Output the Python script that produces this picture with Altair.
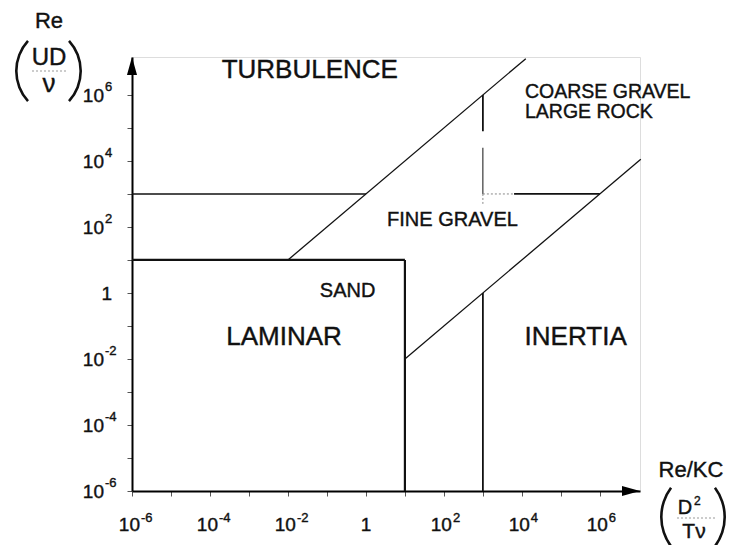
import altair as alt
import pandas as pd

FONT = "Liberation Sans"
INK = "#111111"

# ---------------- data ----------------
# decade exponents of the labelled ticks and of all tick marks
label_exponents = [-6, -4, -2, 0, 2, 4, 6]
tick_exponents = list(range(-6, 7))

# regime boundaries: segments (x0, y0, x1, y1) in (Re/KC, Re)
laminar_box = [(1e-6, 10, 10, 10), (10, 1e-6, 10, 10)]
turbulence_limit = [(1e-6, 1e3, 1, 1e3)]
upper_diagonal = [(1e-2, 10, 10 ** 4.1, 10 ** 7.1)]
lower_diagonal = [(10, 1e-2, 10 ** 7.05, 10 ** 4.05)]
inertia_limit = [(1e3, 1e-6, 1e3, 1), (10 ** 3.8, 1e3, 1e6, 1e3)]
coarse_limit_upper = [(1e3, 1e6, 1e3, 10 ** 4.9)]
coarse_limit_lower = [(1e3, 10 ** 4.4, 1e3, 1e3)]
coarse_limit_faint = [(1e3, 1e3, 10 ** 3.8, 1e3), (1e3, 1e3, 1e3, 10 ** 2.7)]

# region names and where they sit in (Re/KC, Re)
big_labels = ["TURBULENCE", "LAMINAR", "INERTIA"]
big_x = [10 ** -1.44, 10 ** -2.10, 10 ** 5.38]
big_y = [10 ** 6.52, 10 ** -1.58, 10 ** -1.58]
small_labels = ["FINE GRAVEL", "SAND"]
small_x = [10 ** 2.22, 10 ** -0.47]
small_y = [10 ** 2.03, 10 ** -0.12]
left_labels = ["COARSE GRAVEL", "LARGE ROCK"]
left_x = [10 ** 4.08, 10 ** 4.08]
left_y = [10 ** 5.91, 10 ** 5.30]

X_MAX = 10 ** 7.03
Y_MAX = 10 ** 7.15

# ---------------- helpers ----------------
xscale = alt.Scale(type="log", domain=[1e-6, X_MAX], nice=False)
yscale = alt.Scale(type="log", domain=[1e-6, Y_MAX], nice=False)
xaxis = alt.Axis(values=[10.0 ** e for e in tick_exponents], labels=False, grid=False,
                 title=None, domainColor="black", domainWidth=2, tickColor="#555",
                 tickSize=5, tickWidth=1)
yaxis = alt.Axis(values=[10.0 ** e for e in tick_exponents], labels=False, grid=False,
                 title=None, domainColor="black", domainWidth=2, tickColor="#555",
                 tickSize=5, tickWidth=1)


def X(f="x"):
    return alt.X(f"{f}:Q", scale=xscale, axis=xaxis)


def Y(f="y"):
    return alt.Y(f"{f}:Q", scale=yscale, axis=yaxis)


def seg_layer(segs, width, color=INK, dash=None):
    df = pd.DataFrame(segs, columns=["x", "y", "x2", "y2"])
    kw = dict(color=color, strokeWidth=width)
    if dash:
        kw["strokeDash"] = dash
    return alt.Chart(df).mark_rule(**kw).encode(
        x=X(), y=Y(), x2=alt.X2("x2:Q"), y2=alt.Y2("y2:Q"))


one = pd.DataFrame({"k": [0]})
txt = dict(font=FONT, color=INK, baseline="alphabetic", stroke=INK, strokeWidth=0.4)


def ptext(t, px, py, size, align="center"):
    return alt.Chart(one).mark_text(text=t, fontSize=size, align=align, **txt).encode(
        x=alt.value(px), y=alt.value(py))


def paren(cx, cy, r, t0, t1):
    return alt.Chart(one).mark_arc(radius=r, radius2=r - 2.6, theta=t0, theta2=t1,
                                   color=INK).encode(x=alt.value(cx), y=alt.value(cy))


def frac_line(x0, x1, yy):
    return alt.Chart(one).mark_rule(color="#999", strokeWidth=1, strokeDash=[2, 2]).encode(
        x=alt.value(x0), x2=alt.value(x1), y=alt.value(yy))


# ---------------- layers ----------------
layers = [
    seg_layer(laminar_box, 2.2),
    seg_layer(turbulence_limit, 1.6),
    seg_layer(upper_diagonal, 1.3),
    seg_layer(lower_diagonal, 1.3),
    seg_layer(inertia_limit, 1.8),
    seg_layer(coarse_limit_upper, 1.8),
    seg_layer(coarse_limit_lower, 1.0),
    seg_layer(coarse_limit_faint, 1.0, color="#888", dash=[2, 2]),
]

# arrow heads on the axes
arrows = pd.DataFrame({"x": [X_MAX, 1e-6], "y": [1e-6, Y_MAX]})
layers.append(alt.Chart(arrows.iloc[[0]]).mark_point(
    shape="M 0 0 L -1 -0.28 L -1 0.28 Z", size=1296, filled=True, color="black",
    opacity=1, strokeWidth=0).encode(x=X(), y=Y()))
layers.append(alt.Chart(arrows.iloc[[1]]).mark_point(
    shape="M 0 0 L -0.28 1 L 0.28 1 Z", size=1296, filled=True, color="black",
    opacity=1, strokeWidth=0).encode(x=X(), y=Y()))

# tick labels
tl = pd.DataFrame({
    "v": [10.0 ** e for e in label_exponents],
    "base": ["1" if e == 0 else "10" for e in label_exponents],
    "sup": ["" if e == 0 else str(e) for e in label_exponents],
    "e": label_exponents,
})
tl_pow = tl[tl.e != 0]
tl_one = tl[tl.e == 0]

layers += [
    alt.Chart(tl_pow).mark_text(align="right", dx=8, fontSize=19, **txt).encode(
        x=X("v"), y=alt.value(474), text="base:N"),
    alt.Chart(tl_pow).mark_text(align="left", dx=9, fontSize=13, **txt).encode(
        x=X("v"), y=alt.value(465), text="sup:N"),
    alt.Chart(tl_one).mark_text(align="center", fontSize=19, **txt).encode(
        x=X("v"), y=alt.value(474), text="base:N"),
    alt.Chart(tl_pow).mark_text(align="right", dy=7, fontSize=19, **txt).encode(
        y=Y("v"), x=alt.value(-28), text="base:N"),
    alt.Chart(tl_pow).mark_text(align="left", dy=-4, fontSize=13, **txt).encode(
        y=Y("v"), x=alt.value(-27), text="sup:N"),
    alt.Chart(tl_one).mark_text(align="right", dy=7, fontSize=19, **txt).encode(
        y=Y("v"), x=alt.value(-20), text="base:N"),
]

# region names
layers += [
    alt.Chart(pd.DataFrame({"x": big_x, "y": big_y, "t": big_labels})).mark_text(
        align="center", fontSize=26, **txt).encode(x=X(), y=Y(), text="t:N"),
    alt.Chart(pd.DataFrame({"x": small_x, "y": small_y, "t": small_labels})).mark_text(
        align="center", fontSize=20, **txt).encode(x=X(), y=Y(), text="t:N"),
    alt.Chart(pd.DataFrame({"x": left_x, "y": left_y, "t": left_labels})).mark_text(
        align="left", fontSize=19.5, **txt).encode(x=X(), y=Y(), text="t:N"),
]

# axis titles (pixel positions relative to the plot origin)
layers += [
    ptext("Re", -83, -29, 22),
    ptext("UD", -83, 8, 24),
    frac_line(-100, -66, 14),
    ptext("ν", -83, 35, 26),
    paren(-71, 14, 46, 3.972, 5.452),
    paren(-96, 14, 46, 0.831, 2.311),
    ptext("Re/KC", 559, 420, 22),
    ptext("D", 553, 457, 20),
    ptext("2", 562, 448, 12, align="left"),
    frac_line(545, 583, 461),
    ptext("Tν", 562, 481, 21),
    paren(578, 460, 50, 4.069, 5.356),
    paren(544, 460, 50, 0.927, 2.214),
]

chart = alt.layer(*layers).properties(
    width=508, height=434,
    padding={"left": 124, "top": 49, "right": 88, "bottom": 54},
    autosize=alt.AutoSizeParams(type="none"),
).configure_view(stroke=None).configure(background="white")

chart.save("out.html", embed_options={"renderer": "svg", "actions": False})
